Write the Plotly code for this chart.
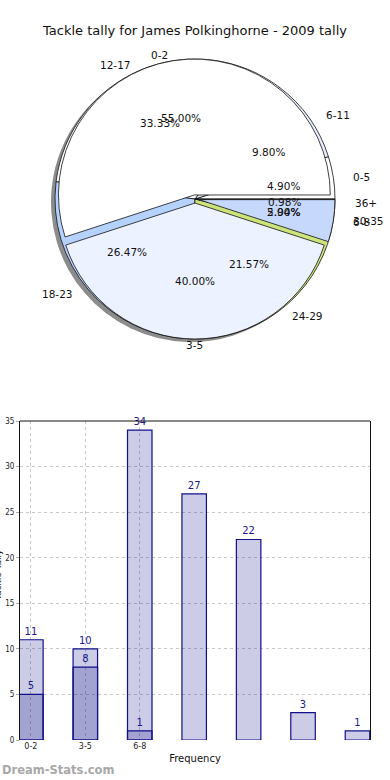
import math
import plotly.graph_objects as go

W, H = 390, 780

chart_title = "Tackle tally for James Polkinghorne - 2009 tally"

# Pie 1 (drawn on top, slightly exploded)
pie1_labels = ["0-2", "3-5", "6-8"]
pie1_values = [11, 8, 1]

# Pie 2 (drawn underneath)
pie2_labels = ["0-5", "6-11", "12-17", "18-23", "24-29", "30-35", "36+"]
pie2_values = [5, 10, 34, 27, 22, 3, 1]

# Bar chart series (overlaid)
bar_series_a = [11, 8, 1]
bar_series_b = [5, 10, 34, 27, 22, 3, 1]
x_tick_labels = pie1_labels
y_ticks = [0, 5, 10, 15, 20, 25, 30, 35]

pie1_colors = ["#ffffff", "#ecf2ff", "#c6d9fd"]
pie2_colors = ["#ffffff", "#e6eeff", "#ffffff", "#b5d2ff", "#cde47a", "#c6d9fd", "#333333"]

# geometry (page pixels)
CX, CY, R = 195, 199, 140


def px_x(px):
    return px / W


def px_y(py):
    return 1 - py / H


def domain(dx=0, dy=0):
    return dict(x=[px_x(CX - R + dx), px_x(CX + R + dx)],
                y=[px_y(CY + R + dy), px_y(CY - R + dy)])


def start_rotation(values):
    # plotly's counterclockwise pies end the first slice at `rotation`;
    # shift so the first slice starts at 3 o'clock and runs counterclockwise
    return 90 - 360 * values[0] / sum(values)


fig = go.Figure()

# shadow
fig.add_trace(go.Pie(values=pie2_values, labels=pie2_labels, sort=False,
                     direction="counterclockwise", rotation=start_rotation(pie2_values),
                     domain=domain(-4, 3), textinfo="none", hoverinfo="skip",
                     marker=dict(colors=["#8c8c8c"] * len(pie2_values), line=dict(width=0)),
                     showlegend=False))
fig.add_trace(go.Pie(values=pie2_values, labels=pie2_labels, sort=False,
                     direction="counterclockwise", rotation=start_rotation(pie2_values),
                     domain=domain(), textinfo="none", hoverinfo="skip",
                     marker=dict(colors=pie2_colors, line=dict(color="#111111", width=0.8)),
                     showlegend=False))
fig.add_trace(go.Pie(values=pie1_values, labels=pie1_labels, sort=False,
                     direction="counterclockwise", rotation=start_rotation(pie1_values),
                     pull=[0.03] * len(pie1_values),
                     domain=domain(), textinfo="none", hoverinfo="skip",
                     marker=dict(colors=pie1_colors, line=dict(color="#111111", width=0.8)),
                     showlegend=False))


def mid_angles(values):
    total = sum(values)
    cum = 0
    out = []
    for v in values:
        out.append((cum + v / 2) / total * 2 * math.pi)
        cum += v
    return out


def add_pie_text(labels, values):
    total = sum(values)
    for lab, v, a in zip(labels, values, mid_angles(values)):
        c, s = math.cos(a), math.sin(a)
        # category label
        lx, ly = CX + 158 * c, CY - 146 * s
        xa = "left" if c > 0.1 else ("right" if c < -0.1 else "center")
        fig.add_annotation(x=px_x(lx), y=px_y(ly), xref="paper", yref="paper",
                           text=lab, showarrow=False, xanchor=xa, yanchor="middle",
                           font=dict(family="DejaVu Sans", size=10.5, color="#111111"))
        # percentage
        tx, ty = CX + 90 * c, CY - 82 * s
        fig.add_annotation(x=px_x(tx), y=px_y(ty), xref="paper", yref="paper",
                           text=f"{v / total * 100:.2f}%", showarrow=False,
                           xanchor="center", yanchor="middle",
                           font=dict(family="DejaVu Sans", size=10.5, color="#111111"))


add_pie_text(pie2_labels, pie2_values)
add_pie_text(pie1_labels, pie1_values)

# bars
bar_fill = "rgba(0,0,128,0.2)"
bar_line = "#10108a"
for series in (bar_series_a, bar_series_b):
    fig.add_trace(go.Bar(x=list(range(len(series))), y=series, width=0.45,
                         marker=dict(color=bar_fill, line=dict(color=bar_line, width=1.2)),
                         text=[str(v) for v in series], textposition="outside",
                         textfont=dict(family="DejaVu Sans", size=10, color="#1a1a8c"),
                         cliponaxis=False, hoverinfo="skip", showlegend=False,
                         xaxis="x", yaxis="y"))

fig.update_layout(
    width=W, height=H,
    margin=dict(l=0, r=0, t=0, b=0),
    paper_bgcolor="white", plot_bgcolor="white",
    barmode="overlay",
    title=dict(text=chart_title, x=0.5, xanchor="center", y=px_y(30), yanchor="middle",
               font=dict(family="DejaVu Sans", size=13, color="#111111")),
    xaxis=dict(domain=[px_x(20), px_x(370)], range=[-0.2, 6.23],
               tickvals=list(range(len(x_tick_labels))), ticktext=x_tick_labels,
               showgrid=True, gridcolor="#c8c8c8", griddash="dot", gridwidth=1,
               zeroline=False, showline=False, ticks="", automargin=False,
               tickfont=dict(family="DejaVu Sans", size=8, color="#222222"),
               title=dict(text="Frequency", standoff=4,
                          font=dict(family="DejaVu Sans", size=10, color="#111111"))),
    yaxis=dict(domain=[px_y(740), px_y(421)], range=[0, 35],
               tickvals=y_ticks, showgrid=True, gridcolor="#c8c8c8", griddash="dot",
               gridwidth=1, zeroline=False, showline=True, linecolor="#111111",
               linewidth=1, mirror=True, ticks="outside", ticklen=3, tickcolor="#aaaaaa",
               automargin=False,
               tickfont=dict(family="DejaVu Sans Condensed", size=8, color="#222222")),
)

# top border of the bar plot area
fig.add_shape(type="line", xref="x domain", yref="y domain", x0=0, x1=1, y0=1, y1=1,
              line=dict(color="#111111", width=1))

# y axis title (mostly past the left edge, as in the source)
fig.add_annotation(x=px_x(-2), y=px_y(575), xref="paper", yref="paper",
                   text="Tackle Tally", textangle=-90, showarrow=False,
                   xanchor="center", yanchor="middle",
                   font=dict(family="DejaVu Sans", size=9, color="#111111"))

# watermark
fig.add_annotation(x=0, y=px_y(770), xref="paper", yref="paper",
                   text="<b>Dream-Stats.com</b>", showarrow=False,
                   xanchor="left", yanchor="middle",
                   font=dict(family="DejaVu Sans", size=11.5, color="#a8a8a8"))

# remove the default page margin so the figure sits at the window's corner
fig.write_html("out.html",
               config={"displayModeBar": False},
               post_script="document.body.style.margin='0';document.body.style.overflow='hidden';")
